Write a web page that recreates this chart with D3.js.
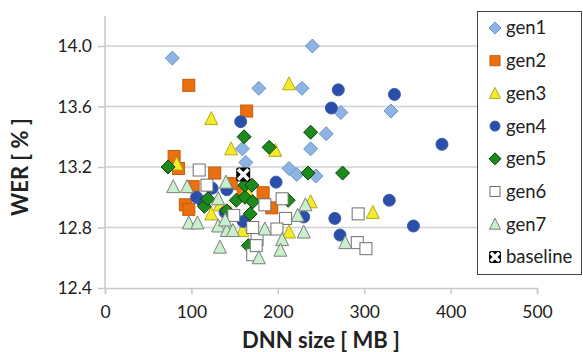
<!DOCTYPE html>
<html>
<head>
<meta charset="utf-8">
<script src="https://cdn.jsdelivr.net/npm/d3@7"></script>
<style>
  body { margin: 0; background: #fff; }
  svg text { font-family: Lato, "Open Sans", sans-serif; fill: #222; }
</style>
</head>
<body>
<div id="chart"></div>
<script>
// [DNN size MB, WER %] per generation
const gen1 = [[78,13.92],[240,14.0],[178,13.72],[228,13.72],[273,13.56],[331,13.57],[256,13.42],
  [238,13.32],[159,13.32],[163,13.23],[213,13.19],[222,13.15],[244,13.14]];
const gen2 = [[97,13.74],[164,13.57],[80,13.27],[85,13.19],[127,13.16],[146,13.09],[102,13.07],
  [93,12.95],[97,12.92],[183,13.03],[193,12.93],[160,13.03]];
const gen3 = [[213,13.75],[123,13.52],[146,13.32],[197,13.31],[83,13.22],[164,13.05],[123,12.89],
  [133,12.95],[159,12.78],[213,12.77],[238,12.97],[310,12.90],[145,12.9]];
const gen4 = [[157,13.50],[262,13.59],[270,13.71],[335,13.68],[390,13.35],[198,13.10],[329,12.98],
  [266,12.86],[230,12.87],[357,12.81],[272,12.75],[106,13.0],[124,13.06],[141,13.05],[160,12.84],
  [139,12.90],[113,12.97]];
const gen5 = [[161,13.40],[238,13.43],[190,13.33],[235,13.16],[275,13.16],[73,13.2],[115,12.94],
  [119,12.99],[152,12.98],[162,13.0],[171,12.97],[168,12.89],[162,13.08],[141,12.91],[170,13.08],
  [212,12.98],[166,12.68]];
const gen6 = [[109,13.18],[118,13.08],[149,12.88],[171,12.80],[176,12.72],[171,12.62],[185,12.95],
  [205,12.99],[209,12.86],[199,12.79],[175,12.68],[293,12.89],[292,12.70],[302,12.66]];
const gen7 = [[79,13.07],[95,13.07],[97,12.83],[107,12.83],[131,12.81],[141,12.78],[148,12.78],
  [133,12.67],[139,12.85],[140,13.10],[131,12.99],[232,12.95],[223,12.88],[230,12.77],[185,12.79],
  [205,12.72],[203,12.65],[178,12.60],[278,12.70]];
const baseline = [[160,13.15]];

const xTicks = [0, 100, 200, 300, 400, 500];
const yTicks = [12.4, 12.8, 13.2, 13.6, 14.0];

const series = [
  {name: 'gen1', data: gen1, shape: 'diamond', fill: '#8eb4e3', stroke: '#6e95c9'},
  {name: 'gen2', data: gen2, shape: 'square', fill: '#e8700e', stroke: '#c75b0c'},
  {name: 'gen3', data: gen3, shape: 'triangle', fill: '#f2ea2a', stroke: '#b3ac1c'},
  {name: 'gen4', data: gen4, shape: 'circle', fill: '#2b4ea8', stroke: '#3a5cb5'},
  {name: 'gen5', data: gen5, shape: 'diamond', fill: '#1c8a1c', stroke: '#0e3f0e'},
  {name: 'gen6', data: gen6, shape: 'square', fill: '#ffffff', stroke: '#6f6f6f'},
  {name: 'gen7', data: gen7, shape: 'triangle', fill: '#c9f0cb', stroke: '#7d7d7d'},
  {name: 'baseline', data: baseline, shape: 'cross', fill: '#000000', stroke: '#000000'}
];

const width = 583, height = 352;
const margin = {top: 16, right: 46, bottom: 64, left: 105};

const svg = d3.select('#chart').append('svg')
  .attr('width', width).attr('height', height);

const x = d3.scaleLinear().domain([0, 500]).range([margin.left, width - margin.right]);
const y = d3.scaleLinear().domain([12.4, 14.0]).range([height - margin.bottom, 46]);

// gridlines
svg.append('g').selectAll('line')
  .data(yTicks.filter(d => d > 12.4))
  .enter().append('line')
    .attr('x1', x(0)).attr('x2', x(500))
    .attr('y1', d => y(d)).attr('y2', d => y(d))
    .attr('stroke', '#d0d0d0').attr('stroke-width', 1.5);

// y axis
const yAxis = svg.append('g')
  .attr('transform', `translate(${x(0)},0)`)
  .call(d3.axisLeft(y).tickValues(yTicks).tickFormat(d3.format('.1f')).tickSize(7).tickPadding(6));
yAxis.select('.domain').attr('stroke', '#c8c8c8').attr('stroke-width', 1.5)
  .attr('d', `M0,${margin.top}V${y(12.4)}`);
yAxis.selectAll('.tick line').attr('stroke', '#c8c8c8').attr('stroke-width', 1.5);
yAxis.selectAll('.tick text').style('font-size', '17.5px').attr('fill', '#222');

// x axis
const xAxis = svg.append('g')
  .attr('transform', `translate(0,${y(12.4)})`)
  .call(d3.axisBottom(x).tickValues(xTicks).tickSize(6).tickPadding(12));
xAxis.select('.domain').attr('stroke', '#c8c8c8').attr('stroke-width', 1.5);
xAxis.selectAll('.tick line').attr('stroke', '#c8c8c8').attr('stroke-width', 1.5);
xAxis.selectAll('.tick text').style('font-size', '17.5px').attr('fill', '#222');

// axis titles
svg.append('text')
  .attr('transform', `translate(20,${y(13.2)}) rotate(-90)`)
  .attr('text-anchor', 'middle').attr('dy', '0.35em')
  .style('font-size', '22px').style('font-weight', 'bold')
  .text('WER [ % ]');
svg.append('text')
  .attr('x', 321).attr('y', 340)
  .attr('text-anchor', 'middle').attr('dy', '0.35em')
  .style('font-size', '22px').style('font-weight', 'bold')
  .text('DNN size [ MB ]');

function drawMarker(g, s, size) {
  const r = size / 2;
  if (s.shape === 'diamond') {
    g.append('path').attr('d', `M0,${-r - 1}L${r + 1},0L0,${r + 1}L${-r - 1},0Z`)
      .attr('fill', s.fill).attr('stroke', s.stroke).attr('stroke-width', 1);
  } else if (s.shape === 'square') {
    g.append('rect').attr('x', -r).attr('y', -r).attr('width', size).attr('height', size)
      .attr('fill', s.fill).attr('stroke', s.stroke).attr('stroke-width', 1);
  } else if (s.shape === 'triangle') {
    g.append('path').attr('d', `M0,${-r - 1}L${r + 0.5},${r}L${-r - 0.5},${r}Z`)
      .attr('fill', s.fill).attr('stroke', s.stroke).attr('stroke-width', 1);
  } else if (s.shape === 'circle') {
    g.append('circle').attr('r', r)
      .attr('fill', s.fill).attr('stroke', s.stroke).attr('stroke-width', 1);
  } else if (s.shape === 'cross') {
    g.append('rect').attr('x', -r - 1).attr('y', -r - 1).attr('width', size + 2).attr('height', size + 2)
      .attr('rx', 2).attr('fill', '#000');
    g.append('path').attr('d', `M${-r + 2},${-r + 2}L${r - 2},${r - 2}M${r - 2},${-r + 2}L${-r + 2},${r - 2}`)
      .attr('stroke', '#fff').attr('stroke-width', 3.5).attr('stroke-linecap', 'square');
  }
}

// points
series.forEach(s => {
  svg.append('g').attr('class', s.name).selectAll('g')
    .data(s.data)
    .enter().append('g')
      .attr('transform', d => `translate(${x(d[0])},${y(d[1])})`)
      .each(function() { drawMarker(d3.select(this), s, 12); });
});

// legend
const legend = svg.append('g');
legend.append('rect')
  .attr('x', 477.5).attr('y', 11.5).attr('width', 104).attr('height', 263)
  .attr('fill', '#fff').attr('stroke', '#444').attr('stroke-width', 1);
series.forEach((s, i) => {
  const ly = 28 + i * 32.7;
  const g = legend.append('g').attr('transform', `translate(495,${ly})`);
  drawMarker(g, s, 10);
  legend.append('text')
    .attr('x', 506).attr('y', ly).attr('dy', '0.35em')
    .style('font-size', '18.5px')
    .text(s.name);
});
</script>
</body>
</html>
